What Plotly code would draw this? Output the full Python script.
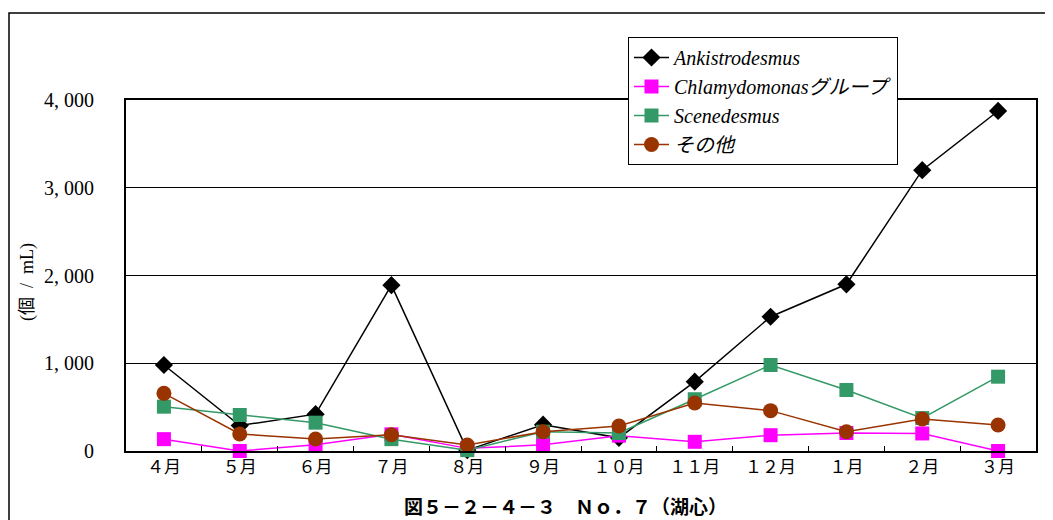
import plotly.graph_objects as go

months = ["４月", "５月", "６月", "７月", "８月", "９月", "１０月", "１１月", "１２月", "１月", "２月", "３月"]
ankistrodesmus = [980, 290, 420, 1890, 10, 300, 150, 790, 1530, 1900, 3200, 3875]
chlamydomonas = [135, 0, 70, 190, 30, 70, 175, 105, 180, 205, 200, 0]
scenedesmus = [505, 410, 323, 135, 10, 220, 205, 590, 980, 695, 375, 847]
sonota = [657, 194, 137, 185, 68, 220, 285, 547, 460, 220, 365, 296]

y_tickvals = [0, 1000, 2000, 3000, 4000]
y_ticktext = ["0", "1, 000", "2, 000", "3, 000", "4, 000"]

serif = "Liberation Serif, Noto Sans CJK JP, serif"

fig = go.Figure()
series = [
    ("Ankistrodesmus", ankistrodesmus, "#000000", "diamond", 14),
    ("Chlamydomonasグループ", chlamydomonas, "#FF00FF", "square", 14),
    ("Scenedesmus", scenedesmus, "#339966", "square", 14),
    ("その他", sonota, "#993300", "circle", 15),
]
for name, vals, col, sym, sz in series:
    fig.add_trace(go.Scatter(
        x=months, y=vals, name=name, mode="lines+markers",
        line=dict(color=col, width=1.5),
        marker=dict(symbol=sym, size=sz, color=col, line=dict(width=0)),
        cliponaxis=False,
    ))

# page body has an 8px margin; figure is sized/offset to compensate
fig.update_layout(
    width=1045, height=512,
    margin=dict(l=118, r=17, t=92, b=69),
    paper_bgcolor="white", plot_bgcolor="white",
    font=dict(family=serif, size=17, color="#000000"),
    showlegend=True,
    legend=dict(
        x=(628 - 126) / 910, y=(451 - 37) / 351, xanchor="left", yanchor="top",
        bgcolor="white", bordercolor="#000000", borderwidth=1,
        font=dict(family=serif, size=20, style="italic"),
        itemwidth=35, tracegroupgap=0,
    ),
    xaxis=dict(
        type="category", categoryorder="array", categoryarray=months,
        range=[-0.5, 11.5],
        showline=True, linecolor="#000000", linewidth=2, mirror=True,
        ticks="inside", ticklen=5, tickcolor="#000000",
        tickson="boundaries", showgrid=False, zeroline=False,
        tickfont=dict(size=17),
    ),
    yaxis=dict(
        range=[0, 4000], tickvals=y_tickvals, ticktext=y_ticktext,
        showline=True, linecolor="#000000", linewidth=2, mirror=True,
        showgrid=True, gridcolor="#000000", gridwidth=1,
        zeroline=False, ticks="", ticklabelstandoff=26,
        tickfont=dict(size=20),
    ),
    annotations=[
        dict(text="(個  /  mL)", xref="paper", yref="paper",
             x=(27 - 126) / 910, y=(451 - 282) / 351, textangle=-90,
             showarrow=False, font=dict(size=18), xanchor="center", yanchor="middle"),
        dict(text="<b>図５－２－４－３　Ｎｏ．７（湖心）</b>", xref="paper", yref="paper",
             x=(565 - 126) / 910, y=(451 - 507) / 351, showarrow=False,
             font=dict(size=19), xanchor="center", yanchor="middle"),
    ],
    shapes=[
        dict(type="rect", xref="paper", yref="paper",
             x0=(9 - 126) / 910, x1=(1070 - 126) / 910,
             y0=(451 - 540) / 351, y1=(451 - 13) / 351,
             line=dict(color="#000000", width=1.5), fillcolor="rgba(0,0,0,0)", layer="below"),
    ],
)

fig.write_html("out.html")
